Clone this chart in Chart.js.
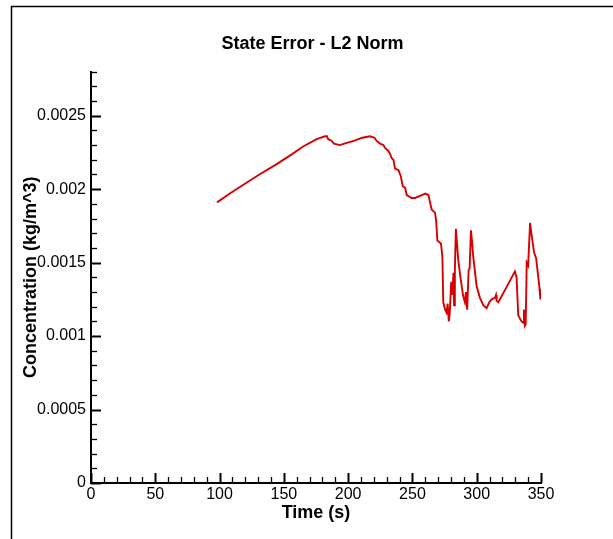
<!DOCTYPE html>
<html>
<head>
<meta charset="utf-8">
<script src="https://cdn.jsdelivr.net/npm/chart.js@4/dist/chart.umd.min.js"></script>
<style>
  html, body { margin: 0; padding: 0; background: #fff; }
  canvas { display: block; }
</style>
</head>
<body>
<canvas id="chart" width="613" height="539"></canvas>
<script>
// time (s) and L2 norm of the state error (kg/m^3)
const times = [
  98, 108, 118.5, 131, 144.4, 155, 165, 175.5, 182, 183.5, 184.5, 187, 189, 193.5,
  197, 205, 211, 217, 220.5, 222, 224.8, 227.4, 228.7, 231.3, 232.6, 233.9, 235.2,
  236.5, 239.1, 240.9, 242.5, 244.3, 245.6, 249.4, 252, 257.2, 260, 262.4, 263.7,
  265, 267.6, 268.4, 269.4, 272.2, 273.3, 274, 275.4, 276.5, 277.4, 278.3, 279,
  280.2, 281, 281.9, 282.4, 283, 283.8, 285.6, 287.5, 289.5, 290.8, 291.6, 292.6,
  293.7, 294.5, 295.5, 296.3, 297.3, 299.9, 302.5, 305.1, 307.7, 309.8, 311.6,
  314.2, 315, 315.5, 316.8, 323, 329.7, 331, 332.3, 334.9, 336.2, 336.7, 337.5,
  338.1, 338.9, 340, 341.5, 342.5, 344.6, 346.2, 348.8, 349.5, 350
];
const errors = [
  0.00191, 0.00197, 0.00203, 0.00210, 0.00217, 0.00223, 0.00229, 0.00234, 0.00236,
  0.00236, 0.00234, 0.00233, 0.00231, 0.00230, 0.00231, 0.00233, 0.00235, 0.00236,
  0.00235, 0.00233, 0.00231, 0.00230, 0.00228, 0.00226, 0.00224, 0.00221, 0.00220,
  0.00214, 0.00213, 0.00209, 0.00202, 0.00201, 0.00196, 0.00194, 0.00194, 0.00196,
  0.00197, 0.00196, 0.00191, 0.00186, 0.00184, 0.00179, 0.00165, 0.00163, 0.00154,
  0.00123, 0.00118, 0.00116, 0.00122, 0.00110, 0.00115, 0.00137, 0.00128, 0.00143,
  0.00121, 0.00145, 0.00173, 0.00152, 0.00139, 0.00127, 0.00123, 0.00130, 0.00118,
  0.00145, 0.00146, 0.00172, 0.00165, 0.00154, 0.00134, 0.00126, 0.00121, 0.00119,
  0.00123, 0.00125, 0.00126, 0.00128, 0.00124, 0.00123, 0.00133, 0.00144, 0.00140,
  0.00114, 0.00110, 0.00109, 0.00118, 0.00107, 0.00108, 0.00150, 0.00148, 0.00177,
  0.00170, 0.00157, 0.00153, 0.00133, 0.00125, 0.00132
];
const xTicks = [0, 50, 100, 150, 200, 250, 300, 350];
const yTicks = [0, 0.0005, 0.001, 0.0015, 0.002, 0.0025];
const yTickLabels = ["0", "0.0005", "0.001", "0.0015", "0.002", "0.0025"];

const X_MAX = 350;
const Y_MAX = 0.0028;
const FONT = "'Liberation Sans', Arial, sans-serif";

// tecplot-style inward ticks plus the page frame
const inwardTicks = {
  id: "inwardTicks",
  beforeDraw(chart) {
    const ctx = chart.ctx;
    ctx.save();
    ctx.strokeStyle = "#000";
    ctx.lineWidth = 1.5;
    ctx.beginPath();
    ctx.moveTo(11.5, 539);
    ctx.lineTo(11.5, 6.5);
    ctx.lineTo(613, 6.5);
    ctx.stroke();
    ctx.restore();
  },
  afterDraw(chart) {
    const { ctx, scales } = chart;
    const xs = scales.x, ys = scales.y;
    const x0 = xs.getPixelForValue(0);
    const y0 = ys.getPixelForValue(0);
    ctx.save();
    ctx.strokeStyle = "#000";
    for (let i = 0; i <= 35; i++) {
      const px = Math.round(xs.getPixelForValue(i * 10)) + 0.5;
      const major = i % 5 === 0;
      ctx.lineWidth = major ? 2 : 1.3;
      ctx.beginPath();
      ctx.moveTo(px, y0);
      ctx.lineTo(px, y0 - (major ? 10 : 6));
      ctx.stroke();
    }
    for (let i = 0; i <= 28; i++) {
      const py = Math.round(ys.getPixelForValue(i * 0.0001)) + 0.5;
      const major = i % 5 === 0;
      ctx.lineWidth = major ? 2 : 1.3;
      ctx.beginPath();
      ctx.moveTo(x0, py);
      ctx.lineTo(x0 + (major ? 10 : 6), py);
      ctx.stroke();
    }
    ctx.restore();
  },
};

new Chart(document.getElementById("chart"), {
  type: "line",
  data: {
    datasets: [
      {
        data: times.map((t, i) => ({ x: t, y: errors[i] })),
        borderColor: "#d60000",
        borderWidth: 1.9,
        pointRadius: 0,
        tension: 0,
        fill: false,
      },
    ],
  },
  plugins: [inwardTicks],
  options: {
    responsive: false,
    animation: false,
    layout: { padding: { left: 12, right: 0, top: 0, bottom: 0 } },
    plugins: {
      legend: { display: false },
      tooltip: { enabled: false },
      title: {
        display: true,
        text: "State Error - L2 Norm",
        color: "#000",
        font: { family: FONT, size: 18, weight: "bold" },
        padding: { top: 33, bottom: 17 },
      },
    },
    scales: {
      x: {
        type: "linear",
        min: 0,
        max: X_MAX,
        afterBuildTicks(scale) {
          scale.ticks = xTicks.map((v) => ({ value: v }));
        },
        afterFit(scale) {
          scale.height = 56;
        },
        grid: { display: false, drawTicks: false },
        border: { display: true, color: "#000", width: 2 },
        ticks: {
          color: "#000",
          padding: 2,
          maxRotation: 0,
          font: { family: FONT, size: 16 },
          callback: (v) => String(v),
        },
        title: {
          display: true,
          text: "Time (s)",
          color: "#000",
          font: { family: FONT, size: 18, weight: "bold" },
          padding: { top: 0, bottom: 15 },
        },
      },
      y: {
        type: "linear",
        min: 0,
        max: Y_MAX,
        afterBuildTicks(scale) {
          scale.ticks = yTicks.map((v) => ({ value: v }));
        },
        afterFit(scale) {
          scale.width = 79;
        },
        grid: { display: false, drawTicks: false },
        border: { display: true, color: "#000", width: 2 },
        ticks: {
          color: "#000",
          padding: 5,
          font: { family: FONT, size: 16 },
          callback: (v, i) => yTickLabels[i],
        },
        title: {
          display: true,
          text: "Concentration (kg/m^3)",
          color: "#000",
          font: { family: FONT, size: 18, weight: "bold" },
          padding: { top: 8, bottom: 0 },
        },
      },
      // empty right margin so the title centres on the whole page
      yRight: {
        type: "linear",
        position: "right",
        min: 0,
        max: Y_MAX,
        afterFit(scale) {
          scale.width = 72;
        },
        grid: { display: false, drawTicks: false },
        border: { display: false },
        ticks: { display: false },
      },
    },
  },
});
</script>
</body>
</html>
